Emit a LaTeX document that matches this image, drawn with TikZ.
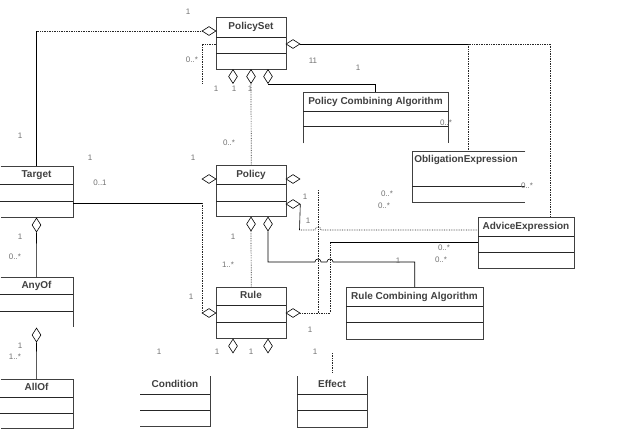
\documentclass[tikz,border=0pt]{standalone}
\usepackage{fontspec}
\setmainfont{Liberation Sans}
\usetikzlibrary{shapes.geometric}
\begin{document}
\begin{tikzpicture}[x=1pt,y=-1pt,
  box/.style={draw=black!75, line width=0.5pt, inner sep=0pt, anchor=north west, rectangle},
  nobox/.style={draw=none, inner sep=0pt, anchor=north west, rectangle},
  boxl/.style={black!75, line width=0.5pt},
  cmp/.style={black!85, line width=0.8pt},
  ttl/.style={font=\bfseries\fontsize{10}{12}\selectfont, text=black!75, inner sep=0pt, text height=7pt, text depth=2pt},
  lbl/.style={font=\fontsize{8}{9}\selectfont, text=black!55, inner sep=0pt},
  agg/.style={diamond, draw=black, fill=white, inner sep=0pt, line width=0.6pt},
  aggh/.style={agg, minimum width=14pt, minimum height=9pt},
  aggv/.style={agg, minimum width=9pt, minimum height=14pt},
  sc/.style={black, line width=0.6pt},
  dc/.style={black!85, line width=0.7pt, densely dotted}]
\useasboundingbox (0,0) rectangle (623,434);
\fill[white] (0,0) rectangle (623,434);

% ---------- classes ----------
\node[box, minimum width=70pt, minimum height=52pt] (ps) at (216,17) {};
\draw[cmp] (216,37) -- (286,37) (216,53) -- (286,53);
\node[ttl] (pst) at (251,27) {PolicySet};

\node[nobox, minimum width=145pt, minimum height=51pt] (pca) at (303,92) {};
\draw[boxl] (pca.south west) -- (pca.north west) -- (pca.north east) -- (pca.south east);
\draw[cmp] (303,111) -- (448,111) (303,126) -- (448,126);
\node[ttl] (pcat) at (375.5,101.5) {Policy Combining Algorithm};

\node[nobox, minimum width=113pt, minimum height=51pt] (obl) at (412,151) {};
\draw[boxl] (obl.north east) -- (obl.north west) -- (obl.south west) -- (obl.south east);
\draw[cmp] (412,186) -- (525,186);
\node[ttl] (oblt) at (466,160) {ObligationExpression};

\node[box, minimum width=96pt, minimum height=51pt] (adv) at (478,217) {};
\draw[cmp] (478,236) -- (574,236) (478,252) -- (574,252);
\node[ttl] (advt) at (526,226.5) {AdviceExpression};

\node[nobox, minimum width=72pt, minimum height=51pt] (tgt) at (0.5,166) {};
\draw[boxl] (tgt.north west) -- (tgt.north east) -- (tgt.south east) -- (tgt.south west);
\draw[cmp] (0,184) -- (72.5,184) (0,201) -- (72.5,201);
\node[ttl] (tgtt) at (36.5,175) {Target};

\node[box, minimum width=70pt, minimum height=51pt] (pol) at (216,165) {};
\draw[cmp] (216,184) -- (286,184) (216,201) -- (286,201);
\node[ttl] (polt) at (251,174.5) {Policy};

\node[box, minimum width=70pt, minimum height=51pt] (rule) at (216,287) {};
\draw[cmp] (216,305) -- (286,305) (216,322) -- (286,322);
\node[ttl] (rulet) at (251,296) {Rule};

\node[nobox, minimum width=72pt, minimum height=50pt] (any) at (0.5,277) {};
\draw[boxl] (any.north west) -- (any.north east) -- (any.south east);
\draw[cmp] (0,294) -- (72.5,294) (0,311) -- (72.5,311);
\node[ttl] (anyt) at (36.5,285.5) {AnyOf};

\node[nobox, minimum width=72pt, minimum height=49pt] (all) at (0.5,379) {};
\draw[boxl] (all.north west) -- (all.north east) -- (all.south east) -- (all.south west);
\draw[cmp] (0,397) -- (72.5,397) (0,413) -- (72.5,413);
\node[ttl] (allt) at (36.5,388) {AllOf};

\node[nobox, minimum width=70pt, minimum height=50pt] (cond) at (140,376) {};
\draw[boxl] (cond.north east) -- (cond.south east) -- (cond.south west);
\draw[cmp] (140,394) -- (210,394) (140,410) -- (210,410);
\node[ttl] (condt) at (175,385) {Condition};

\node[nobox, minimum width=70pt, minimum height=51pt] (eff) at (297,376) {};
\draw[boxl] (eff.north west) -- (eff.south west) -- (eff.south east) -- (eff.north east);
\draw[cmp] (297,394) -- (367,394) (297,410) -- (367,410);
\node[ttl] (efft) at (332,385) {Effect};

\node[box, minimum width=137pt, minimum height=52pt] (rca) at (346,287) {};
\draw[cmp] (346,306) -- (483,306) (346,322) -- (483,322);
\node[ttl] (rcat) at (414.5,296.5) {Rule Combining Algorithm};

% ---------- aggregation diamonds ----------
\node[aggh] (dpsl) at (209,31) {};
\node[aggh] (dpsr) at (293,44) {};
\node[aggv] (dpsb1) at (233,76.5) {};
\node[aggv] (dpsb2) at (251,76.5) {};
\node[aggv] (dpsb3) at (268,76.5) {};
\node[aggh] (dpoll) at (209,179) {};
\node[aggh] (dpolr1) at (293,179) {};
\node[aggh] (dpolr2) at (293,204) {};
\node[aggv] (dpolb1) at (251,224) {};
\node[aggv] (dpolb2) at (268,224) {};
\node[aggh] (drulel) at (209,313) {};
\node[aggh] (druler) at (293,313) {};
\node[aggv] (druleb1) at (233,346) {};
\node[aggv] (druleb2) at (268,346) {};
\node[aggv] (dtgt) at (36.5,225) {};
\node[aggv] (dany) at (36.5,335) {};

% ---------- connectors ----------
\coordinate (k1) at (tgt.north |- dpsl.west);
\draw[sc] (tgt.north) -- (k1);
\draw[dc] (k1) -- (dpsl.west);

\coordinate (k2) at (202,83);
\draw[dc] ([yshift=-27pt]ps.north west) -| (k2);

\draw[dc] (dpsb2.south) -- (pol.north);
\draw[sc] (dpsb3.south) -| (pca.north);

\coordinate (k3) at (obl.north |- dpsr.east);
\coordinate (advn) at ([xshift=24pt]adv.north);
\draw[sc] (dpsr.east) -- (k3);
\draw[dc] (k3) -- (obl.north);
\draw[dc] (k3) -| (advn);

\coordinate (k5) at (202,203);
\draw[sc] (tgt.east |- k5) -- (k5);
\draw[dc] (k5) |- (drulel.west);

\draw[dc] (dpolb1.south) -- (rule.north);

\coordinate (k9) at (318,190);
\coordinate (k10) at (318,313);
\draw[dc] (k9) -- (k10);

\coordinate (k7) at (330,313);
\coordinate (k8) at (330,242);
\draw[dc] (druler.east) -- (k7) -- (k8);
\draw[sc] (k8) -- (adv.west |- k8);

\draw[sc] (dpolb2.south) |- (315,262) .. controls (315,258) and (321,258) .. (321,262)
  -- (327,262) .. controls (327,258) and (333,258) .. (333,262) -| (rca.north);

\coordinate (k6) at (299.5,230);
\draw[sc] (dpolr2.east) -- (k6);
\draw[dc] (k6) -- (315,230) .. controls (315,226) and (321,226) .. (321,230) -- (adv.west |- k6);

\draw[sc] (dtgt.south) -- (any.north);
\draw[sc] (dany.south) -- (all.north);

\coordinate (k11) at (332,353);
\coordinate (k12) at (332,372);
\draw[dc] (k11) -- (k12);

% ---------- multiplicities ----------
\node[lbl] at (188,12) {1};
\node[lbl] at (192,60) {0..*};
\node[lbl] at (313,61) {11};
\node[lbl] at (358,68) {1};
\node[lbl] at (216,89) {1};
\node[lbl] at (234,89) {1};
\node[lbl] at (250,89) {1};
\node[lbl] at (20,136) {1};
\node[lbl] at (229,143) {0..*};
\node[lbl] at (446,123) {0..*};
\node[lbl] at (90,158) {1};
\node[lbl] at (193,158) {1};
\node[lbl] at (100,183) {0..1};
\node[lbl] at (527,186) {0..*};
\node[lbl] at (387,194) {0..*};
\node[lbl] at (384,206) {0..*};
\node[lbl] at (305,197) {1};
\node[lbl] at (308,221) {1};
\node[lbl] at (20,237) {1};
\node[lbl] at (15,257) {0..*};
\node[lbl] at (233,237) {1};
\node[lbl] at (228,265) {1..*};
\node[lbl] at (444,248) {0..*};
\node[lbl] at (441,260) {0..*};
\node[lbl] at (398,261) {1};
\node[lbl] at (191,297) {1};
\node[lbl] at (310,330) {1};
\node[lbl] at (20,346) {1};
\node[lbl] at (15,357) {1..*};
\node[lbl] at (159,352) {1};
\node[lbl] at (217,352) {1};
\node[lbl] at (251,352) {1};
\node[lbl] at (315,352) {1};
\end{tikzpicture}
\end{document}
